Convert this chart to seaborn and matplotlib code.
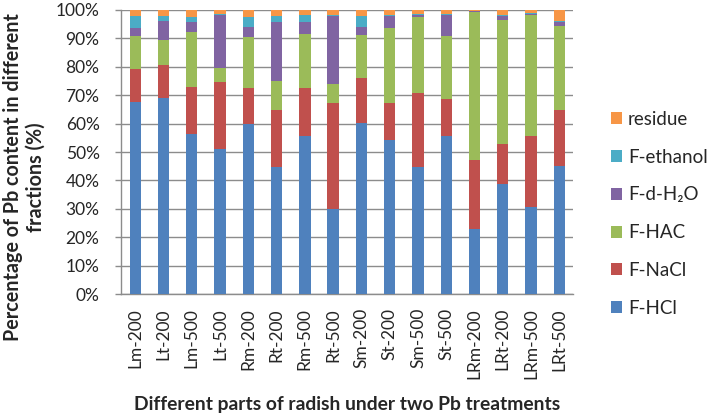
import numpy as np
import pandas as pd
import matplotlib
matplotlib.use("Agg")
import matplotlib.pyplot as plt
import seaborn as sns
from matplotlib.patches import Patch

# Pb fractions in radish parts (% of total)
samples = ["Lm-200", "Lt-200", "Lm-500", "Lt-500", "Rm-200", "Rt-200", "Rm-500", "Rt-500",
           "Sm-200", "St-200", "Sm-500", "St-500", "LRm-200", "LRt-200", "LRm-500", "LRt-500"]
f_hcl = [67.6, 69.0, 56.2, 50.9, 59.8, 44.9, 55.6, 30.1, 60.1, 54.4, 44.9, 55.8, 22.8, 38.8, 30.6, 45.2]
f_nacl = [11.6, 11.6, 16.6, 23.7, 12.6, 20.0, 16.9, 37.2, 15.9, 12.8, 25.8, 13.0, 24.3, 14.0, 25.2, 19.5]
f_hac = [11.6, 8.8, 19.5, 5.0, 18.2, 10.1, 18.9, 6.7, 15.2, 26.4, 26.7, 22.2, 52.2, 43.6, 42.6, 29.7]
f_dh2o = [2.8, 6.8, 3.5, 18.7, 3.5, 20.9, 4.5, 24.0, 2.9, 4.3, 1.0, 7.4, 0.3, 1.6, 0.2, 1.4]
f_ethanol = [4.3, 1.7, 1.6, 0.3, 3.5, 2.1, 2.5, 0.2, 3.8, 0.3, 0.2, 0.2, 0.1, 0.1, 0.5, 0.4]
residue = [2.1, 2.1, 2.6, 1.4, 2.4, 2.0, 1.6, 1.8, 2.1, 1.8, 1.4, 1.4, 0.3, 1.9, 0.9, 3.8]

fractions = ["F-HCl", "F-NaCl", "F-HAC", "F-d-H₂O", "F-ethanol", "residue"]
colors = ["#4F81BD", "#C0504D", "#9BBB59", "#8064A2", "#4BACC6", "#F79646"]

df = pd.DataFrame({"sample": samples, "F-HCl": f_hcl, "F-NaCl": f_nacl, "F-HAC": f_hac,
                   "F-d-H₂O": f_dh2o, "F-ethanol": f_ethanol, "residue": residue})
# normalise to 100 % and stack
vals = df[fractions]
vals = vals.div(vals.sum(axis=1), axis=0) * 100
cum = vals.cumsum(axis=1)
cum["sample"] = df["sample"]

sns.set_style("white")
plt.rcParams["font.family"] = ["Lato", "DejaVu Sans"]

fig, ax = plt.subplots(figsize=(7.08, 4.16), dpi=100)
fig.subplots_adjust(left=0.171, right=0.810, top=0.976, bottom=0.293)

# draw from top layer down so each layer covers the ones above it
for frac, col in reversed(list(zip(fractions, colors))):
    sns.barplot(data=cum, x="sample", y=frac, color=col, width=0.4,
                saturation=1, ax=ax, errorbar=None, linewidth=0, zorder=3)

ax.set_ylim(0, 100)
ax.set_xlim(-0.5, len(samples) - 0.5)
ax.set_yticks(np.arange(0, 101, 10))
ax.set_yticklabels([f"{v}%" for v in range(0, 101, 10)], fontsize=12.5)
ax.yaxis.grid(True, color="#8c8c8c", linewidth=1, zorder=0)
ax.set_axisbelow(True)

ax.set_xticks(range(len(samples)))
ax.set_xticklabels(samples, rotation=90, fontsize=12.5)
ax.set_xticks(np.arange(-0.5, len(samples), 1), minor=True)
ax.tick_params(axis="x", which="major", length=0, pad=10)
ax.tick_params(axis="x", which="minor", length=4.5, color="#8c8c8c", width=1)
ax.tick_params(axis="y", length=4.5, color="#8c8c8c", width=1, left=True, pad=11)

for s in ["top", "right"]:
    ax.spines[s].set_visible(False)
for s in ["left", "bottom"]:
    ax.spines[s].set_color("#8c8c8c")
    ax.spines[s].set_linewidth(1)

ax.set_xlabel("Different parts of radish under two Pb treatments", fontsize=13.9,
              fontweight="bold")
ax.xaxis.set_label_coords(0.5, -0.357)
ax.set_ylabel("Percentage of Pb content in different\nfractions (%)", fontsize=14.2,
              fontweight="bold")
ax.yaxis.set_label_coords(-0.166, 0.412)

handles = [Patch(facecolor=c, edgecolor="none", label=f) for f, c in zip(fractions, colors)]
fig.legend(handles=handles[::-1], loc="center left", bbox_to_anchor=(0.839, 0.486),
           frameon=False, fontsize=13.5, handlelength=0.6, handleheight=0.6,
           handletextpad=0.3, labelspacing=1.11)

fig.savefig("out.png", dpi=100)
